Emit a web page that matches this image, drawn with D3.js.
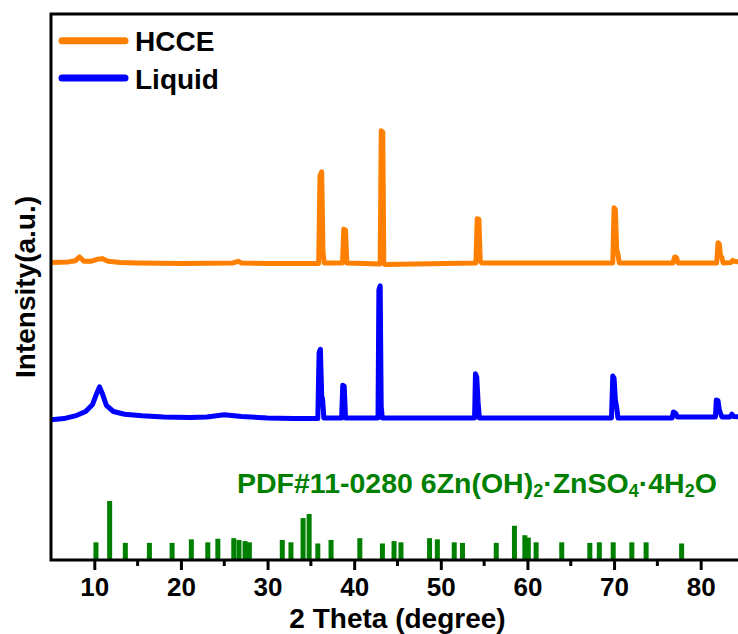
<!DOCTYPE html>
<html>
<head>
<meta charset="utf-8">
<script src="https://cdn.jsdelivr.net/npm/d3@7/dist/d3.min.js"></script>
<style>
  html, body { margin: 0; padding: 0; background: #fff; }
  svg { display: block; }
  text { font-family: "Liberation Sans", Arial, Helvetica, sans-serif; font-weight: bold; }
</style>
</head>
<body>
<svg id="chart" width="738" height="634"></svg>
<script>
// XRD patterns: [2θ (deg), intensity above baseline (a.u.)]
const hcce = [
  [5.0, 0.1], [7.0, 0.2], [7.8, 0.4], [8.3, 1.1], [8.8, 0.3], [9.6, 0.3], [10.4, 0.7], [10.9, 0.8],
  [11.6, 0.3], [13.0, 0.1], [15.0, 0.0], [20.0, -0.1], [26.0, 0.0], [26.6, 0.3], [27.0, 0.0],
  [30.0, -0.1], [35.9, -0.1], [36.05, 16.0], [36.25, 16.7], [36.4, 2.0], [36.55, 0.0],
  [38.65, 0.0], [38.8, 6.2], [39.0, 6.0], [39.15, 0.0],
  [43.0, -0.2], [43.12, 24.2], [43.3, 24.0], [43.42, 0.2], [43.55, -0.3],
  [54.05, 0.0], [54.2, 8.1], [54.4, 8.0], [54.55, 0.5], [54.7, 0.0],
  [69.85, 0.0], [70.0, 10.1], [70.15, 9.8], [70.3, 2.5], [70.45, 1.6], [70.6, 0.0],
  [76.8, 0.0], [77.0, 1.1], [77.2, 1.0], [77.4, 0.0],
  [81.85, 0.0], [82.0, 3.7], [82.15, 3.5], [82.3, 1.2], [82.45, 1.0], [82.6, 0.0],
  [83.5, 0.1], [83.7, 0.5], [83.9, 0.3], [85.0, 0.1]
];

const liquid = [
  [5.0, -0.3], [6.5, -0.1], [8.0, 0.5], [9.0, 1.2], [9.8, 2.5], [10.3, 4.6], [10.6, 5.7], [10.9, 4.6],
  [11.4, 2.3], [12.2, 1.2], [13.5, 0.7], [15.5, 0.4], [18.0, 0.2], [21.0, 0.1], [23.0, 0.2],
  [25.0, 0.6], [27.0, 0.3], [30.0, 0.0], [33.0, -0.1],
  [35.8, -0.1], [35.95, 12.0], [36.1, 12.6], [36.25, 4.0], [36.35, 3.5], [36.5, 0.0],
  [38.55, 0.0], [38.68, 6.0], [38.85, 5.8], [39.0, 0.0],
  [42.75, 0.0], [42.85, 23.5], [43.0, 24.2], [43.12, 2.0], [43.25, 0.0],
  [53.9, 0.0], [54.0, 8.1], [54.15, 7.5], [54.3, 3.0], [54.45, 0.0],
  [69.7, 0.0], [69.85, 7.7], [70.0, 7.3], [70.15, 3.3], [70.3, 2.0], [70.45, 0.0],
  [76.7, 0.0], [76.85, 1.1], [77.1, 0.9], [77.3, 0.2],
  [81.7, 0.2], [81.8, 3.3], [82.0, 3.2], [82.15, 1.5], [82.3, 0.8], [82.45, 0.2],
  [83.4, 0.2], [83.6, 0.7], [83.8, 0.3], [85.0, 0.2]
];

// Reference card PDF#11-0280: 2θ (deg) and relative intensity (%)
const pdfAngles = [10.19, 11.77, 13.58, 16.36, 18.98, 21.2, 23.1, 24.26, 26.1, 26.7, 27.4, 27.9,
  31.7, 32.7, 34.1, 34.8, 35.8, 37.33, 40.65, 43.26, 44.6, 45.4, 48.7, 49.6, 51.55, 52.5,
  56.4, 58.5, 59.7, 60.1, 61.0, 63.96, 67.2, 68.3, 69.9, 72.05, 73.7, 77.8];
const pdfIntensity = [30, 100, 29, 29, 29, 35, 30, 36, 37, 34, 32, 30,
  34, 30, 71, 78, 28, 34, 37, 28, 32, 30, 37, 35, 30, 29,
  29, 58, 42, 38, 30, 30, 29, 30, 30, 30, 30, 28];

const xTicksMajor = [10, 20, 30, 40, 50, 60, 70, 80];
const xTicksMinor = [15, 25, 35, 45, 55, 65, 75];

const seriesNames = ["HCCE", "Liquid"];
const seriesColors = ["#ff8000", "#0000ff"];
const seriesOffsets = [54.4, 26.0];
const pdfColor = "#008000";

const svg = d3.select("#chart");
const plotLeft = 51, plotRight = 744, plotTop = 14, plotBottom = 560;

const x = d3.scaleLinear().domain([5, 85]).range([plotLeft, plotRight]);
const y = d3.scaleLinear().domain([0, 100]).range([plotBottom, plotTop]);
const yRef = d3.scaleLinear().domain([0, 100]).range([plotBottom, plotBottom - 59]);

svg.append("defs").append("clipPath").attr("id", "plotClip")
  .append("rect").attr("x", plotLeft).attr("y", plotTop)
  .attr("width", plotRight - plotLeft).attr("height", plotBottom - plotTop);

const plot = svg.append("g").attr("clip-path", "url(#plotClip)");

// Reference sticks
plot.append("g").selectAll("rect")
  .data(pdfAngles.map((a, i) => [a, pdfIntensity[i]]))
  .join("rect")
  .attr("x", d => x(d[0]) - 2.5)
  .attr("width", 5)
  .attr("y", d => yRef(d[1]))
  .attr("height", d => yRef(0) - yRef(d[1]))
  .attr("fill", pdfColor);

// Patterns
[hcce, liquid].forEach((data, i) => {
  const line = d3.line()
    .x(d => x(d[0]))
    .y(d => y(d[1] + seriesOffsets[i]));
  plot.append("path")
    .datum(data)
    .attr("d", line)
    .attr("fill", "none")
    .attr("stroke", seriesColors[i])
    .attr("stroke-width", 5)
    .attr("stroke-linejoin", "round")
    .attr("stroke-linecap", "round");
});

// Bottom axis
const xAxis = d3.axisBottom(x).tickValues(xTicksMajor).tickSize(10).tickPadding(8).tickFormat(d3.format("d"));
const gx = svg.append("g").attr("transform", `translate(0,${plotBottom})`).call(xAxis);
gx.select(".domain").remove();
gx.selectAll(".tick line").attr("stroke", "#000").attr("stroke-width", 3);
gx.selectAll(".tick text").attr("font-size", 26).attr("fill", "#000")
  .attr("font-family", "'Liberation Sans', Arial, sans-serif").attr("font-weight", "bold");

svg.append("g").selectAll("line").data(xTicksMinor).join("line")
  .attr("x1", d => x(d)).attr("x2", d => x(d))
  .attr("y1", plotBottom).attr("y2", plotBottom + 6)
  .attr("stroke", "#000").attr("stroke-width", 3);

// Frame
svg.append("path")
  .attr("d", `M${plotLeft},${plotBottom}H${plotRight}V${plotTop}H${plotLeft}Z`)
  .attr("fill", "none").attr("stroke", "#000").attr("stroke-width", 3);

// Axis titles
svg.append("text").attr("x", (plotLeft + plotRight) / 2).attr("y", 628)
  .attr("text-anchor", "middle").attr("font-size", 28).text("2 Theta (degree)");
svg.append("text").attr("transform", `translate(35,${(plotTop + plotBottom) / 2}) rotate(-90)`)
  .attr("text-anchor", "middle").attr("font-size", 28).text("Intensity(a.u.)");

// Reference label
const lab = svg.append("text").attr("x", 237).attr("y", 493).attr("font-size", 28.5).attr("fill", pdfColor);
lab.append("tspan").text("PDF#11-0280 6Zn(OH)");
lab.append("tspan").attr("font-size", 18).attr("dy", 4).text("2");
lab.append("tspan").attr("dy", -4).text("·ZnSO");
lab.append("tspan").attr("font-size", 18).attr("dy", 4).text("4");
lab.append("tspan").attr("dy", -4).text("·4H");
lab.append("tspan").attr("font-size", 18).attr("dy", 4).text("2");
lab.append("tspan").attr("dy", -4).text("O");

// Legend
const legend = svg.append("g");
seriesNames.forEach((name, i) => {
  const ly = 40.7 + i * 37.3;
  legend.append("line").attr("x1", 62).attr("x2", 125).attr("y1", ly).attr("y2", ly)
    .attr("stroke", seriesColors[i]).attr("stroke-width", 7).attr("stroke-linecap", "round");
  legend.append("text").attr("x", 135).attr("y", ly + 10.5).attr("font-size", 28).attr("fill", "#000").text(name);
});
</script>
</body>
</html>
